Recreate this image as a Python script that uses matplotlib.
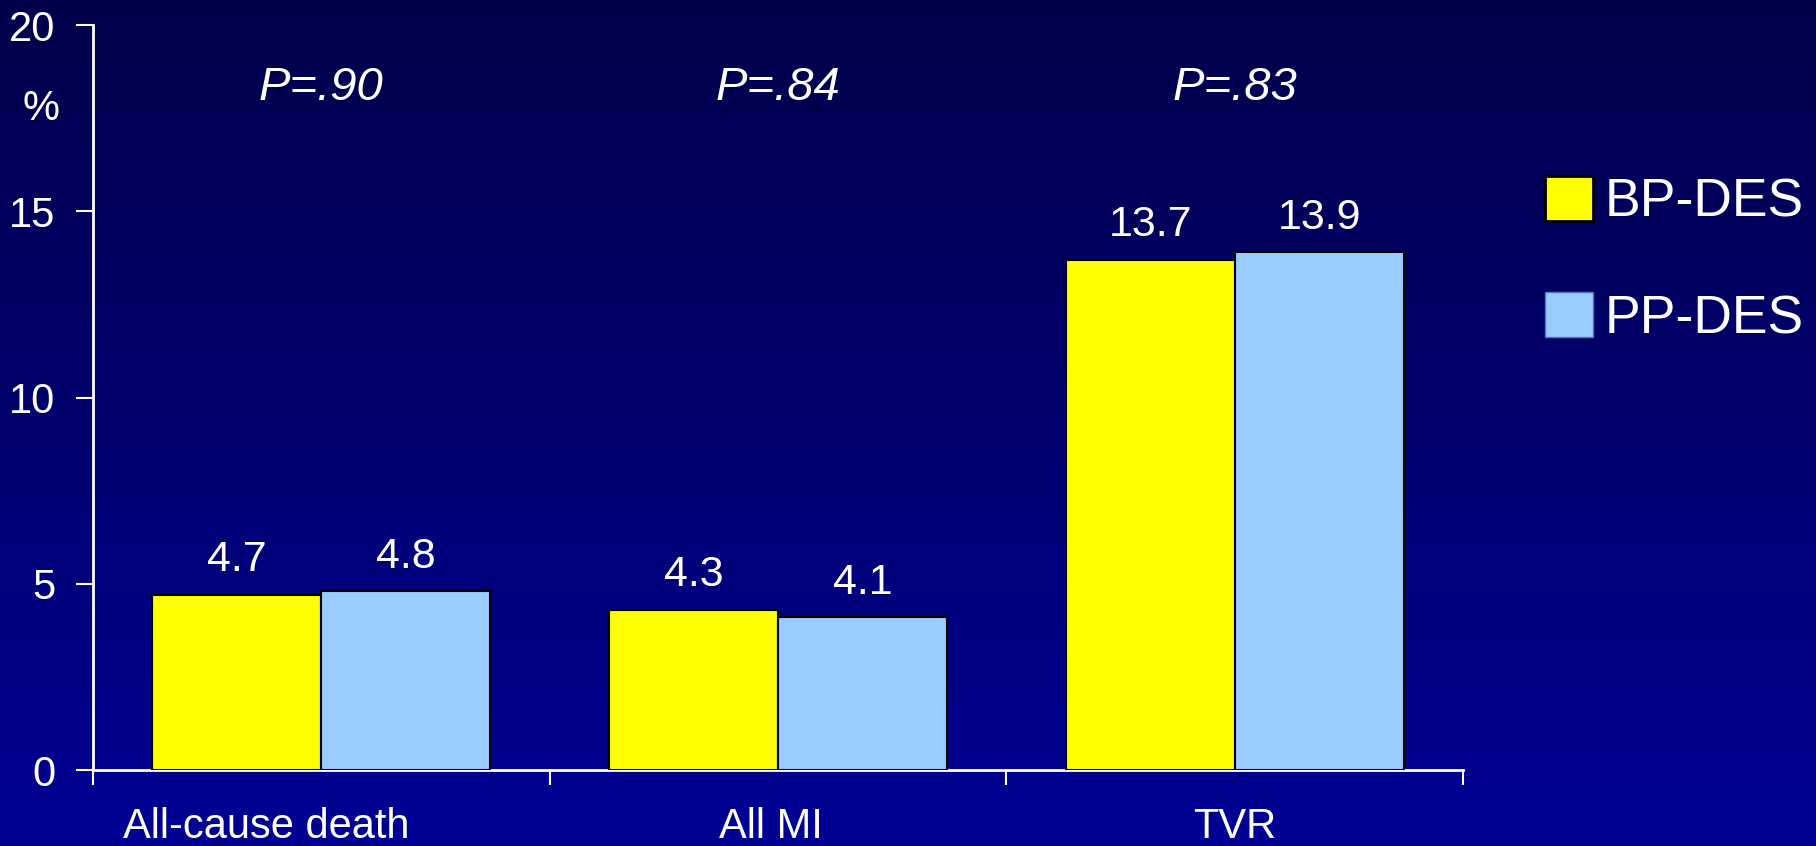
import numpy as np
import matplotlib
matplotlib.use('Agg')
import matplotlib.pyplot as plt
from matplotlib.patches import Patch

plt.rcParams['font.family'] = ['Liberation Sans', 'DejaVu Sans']

# Outcomes at follow-up, BP-DES vs PP-DES
categories = ['All-cause death', 'All MI', 'TVR']
bp_des = [4.7, 4.3, 13.7]
pp_des = [4.8, 4.1, 13.9]
p_values = ['P=.90', 'P=.84', 'P=.83']
series_names = ['BP-DES', 'PP-DES']
y_ticks = [0, 5, 10, 15, 20]

YELLOW = '#FFFF00'
LIGHTBLUE = '#99CCFF'
WHITE = 'white'

fig = plt.figure(figsize=(18.16, 8.46), dpi=100)

# vertical navy gradient behind everything
bg = fig.add_axes([0, 0, 1, 1], zorder=-10)
grad = np.linspace(0, 1, 256).reshape(-1, 1)
top = np.array([0, 0, 74]) / 255
bottom = np.array([0, 0, 148]) / 255
img = top + (bottom - top) * grad[..., None]
bg.imshow(img, aspect='auto', extent=[0, 1, 0, 1], origin='upper')
bg.axis('off')

ax = fig.add_axes([0.0512, 0.0898, 0.7544, 0.8806])
ax.set_facecolor('none')

x = np.arange(len(categories))
w = 0.37
ax.bar(x - w / 2, bp_des, w, color=YELLOW, edgecolor='black', linewidth=1.5, zorder=3)
ax.bar(x + w / 2, pp_des, w, color=LIGHTBLUE, edgecolor='black', linewidth=1.5, zorder=3)

for xi, v in zip(x - w / 2, bp_des):
    ax.annotate(f'{v}', (xi, v), xytext=(0, 17), textcoords='offset points',
                ha='center', va='baseline', color=WHITE, fontsize=31)
for xi, v in zip(x + w / 2, pp_des):
    ax.annotate(f'{v}', (xi, v), xytext=(0, 17), textcoords='offset points',
                ha='center', va='baseline', color=WHITE, fontsize=31)

for xi, p in zip(x, p_values):
    ax.text(xi, 18, p, ha='center', va='baseline', color=WHITE,
            fontsize=34, style='italic')

ax.set_xlim(-0.5, len(categories) - 0.5)
ax.set_ylim(0, 20)

for side in ['top', 'right']:
    ax.spines[side].set_visible(False)
for side in ['left', 'bottom']:
    ax.spines[side].set_color(WHITE)
    ax.spines[side].set_linewidth(2)

ax.set_yticks(y_ticks)
ax.set_yticklabels([str(t) for t in y_ticks])
ax.tick_params(axis='y', colors=WHITE, labelsize=30, length=12, width=1.5,
               pad=15, direction='out')

# ticks on group boundaries, labels drawn separately
ax.set_xticks(np.arange(len(categories) + 1) - 0.5)
ax.set_xticklabels([])
ax.tick_params(axis='x', colors=WHITE, length=11, width=1.5, direction='out')

label_shift = [-0.12, -0.015, 0.0]
for xi, name, s in zip(x, categories, label_shift):
    ax.annotate(name, (xi + s, 0), xycoords=('data', 'axes fraction'),
                xytext=(0, -49), textcoords='offset points',
                ha='center', va='baseline', color=WHITE, fontsize=30,
                annotation_clip=False)

fig.text(41 / 1816, 1 - 109 / 846, '%', ha='center', va='center',
         color=WHITE, fontsize=30)

handles = [Patch(facecolor=YELLOW, edgecolor='black', linewidth=2),
           Patch(facecolor=LIGHTBLUE, edgecolor='#5577AA', linewidth=1)]
leg = fig.legend(handles, series_names, loc='upper left',
                 bbox_to_anchor=(1545 / 1816, 1 - 176 / 846),
                 frameon=False, fontsize=38.5, handlelength=0.9,
                 handleheight=0.92, handletextpad=0.22, labelspacing=1.2,
                 borderpad=0, borderaxespad=0)
for t in leg.get_texts():
    t.set_color(WHITE)

fig.savefig('out.png', dpi=100)
